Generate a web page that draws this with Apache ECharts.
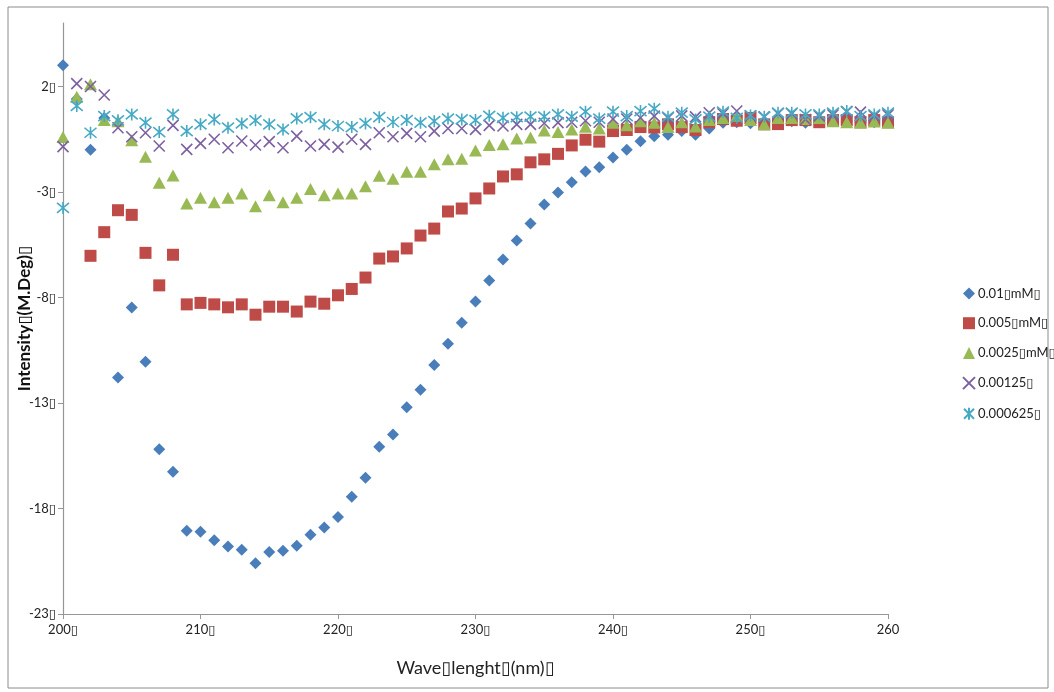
<!DOCTYPE html>
<html>
<head>
<meta charset="utf-8">
<script src="https://cdn.jsdelivr.net/npm/echarts@6/dist/echarts.min.js"></script>
<style>
html,body{margin:0;padding:0;background:#fff;}
#chart{width:1054px;height:692px;}
</style>
</head>
<body>
<div id="chart"></div>
<script>
const BOX = '\u25AF';
const wavelengths = [200,201,202,203,204,205,206,207,208,209,210,211,212,213,214,215,216,217,218,219,220,221,222,223,224,225,226,227,228,229,230,231,232,233,234,235,236,237,238,239,240,241,242,243,244,245,246,247,248,249,250,251,252,253,254,255,256,257,258,259,260];
const xTicks = [200,210,220,230,240,250,260];
const yTicks = [-23,-18,-13,-8,-3,2];
const seriesNames = ['0.01' + BOX + 'mM' + BOX, '0.005' + BOX + 'mM' + BOX, '0.0025' + BOX + 'mM' + BOX, '0.00125' + BOX, '0.000625' + BOX];

const s001 = [3.0,1.4,-1.0,0.5,-11.8,-8.48,-11.05,-15.2,-16.26,-19.06,-19.1,-19.5,-19.8,-19.96,-20.6,-20.06,-20.0,-19.77,-19.25,-18.9,-18.4,-17.45,-16.55,-15.08,-14.5,-13.2,-12.37,-11.2,-10.2,-9.2,-8.2,-7.2,-6.2,-5.3,-4.5,-3.6,-3.03,-2.55,-2.03,-1.84,-1.37,-1.0,-0.6,-0.36,-0.3,-0.12,-0.3,0.0,0.28,0.3,0.25,0.3,0.3,0.35,0.28,0.3,0.35,0.35,0.3,0.3,0.3];
const s0005 = [null,null,-6.03,-4.91,-3.87,-4.09,-5.89,-7.43,-5.98,-8.33,-8.26,-8.33,-8.47,-8.33,-8.82,-8.44,-8.44,-8.67,-8.2,-8.3,-7.9,-7.6,-7.06,-6.16,-6.06,-5.68,-5.07,-4.74,-3.93,-3.79,-3.31,-2.84,-2.27,-2.17,-1.6,-1.46,-1.2,-0.8,-0.53,-0.62,-0.12,-0.07,0.07,0.05,0.2,0.07,-0.07,0.3,0.45,0.37,0.5,0.2,0.21,0.4,0.4,0.3,0.4,0.4,0.3,0.4,0.3];
const s00025 = [-0.4,1.51,2.1,0.4,0.35,-0.56,-1.34,-2.57,-2.22,-3.55,-3.28,-3.49,-3.28,-3.08,-3.68,-3.16,-3.49,-3.28,-2.87,-3.16,-3.08,-3.08,-2.73,-2.24,-2.38,-2.05,-2.05,-1.69,-1.46,-1.43,-1.04,-0.78,-0.75,-0.47,-0.43,-0.09,-0.17,-0.04,0.09,0.0,0.28,0.15,0.35,0.28,0.07,0.3,0.1,0.4,0.5,0.6,0.4,0.2,0.5,0.5,0.45,0.5,0.35,0.3,0.28,0.33,0.28];
const s000125 = [-0.86,2.13,1.99,1.59,0.04,-0.39,-0.2,-0.83,0.15,-0.99,-0.7,-0.51,-0.91,-0.59,-0.78,-0.62,-0.91,-0.36,-0.83,-0.75,-0.88,-0.51,-0.75,-0.2,-0.39,-0.23,-0.39,-0.12,0.0,0.0,-0.04,0.15,0.12,0.2,0.2,0.25,0.28,0.3,0.37,0.3,0.45,0.45,0.51,0.59,0.5,0.6,0.55,0.75,0.7,0.83,0.6,0.55,0.7,0.7,0.43,0.6,0.65,0.8,0.78,0.6,0.65];
const s0000625 = [-3.76,1.07,-0.2,0.59,0.39,0.67,0.28,-0.17,0.67,-0.12,0.2,0.43,0.04,0.24,0.39,0.2,-0.04,0.48,0.54,0.2,0.12,0.07,0.24,0.54,0.31,0.4,0.28,0.35,0.47,0.43,0.4,0.6,0.51,0.54,0.56,0.56,0.67,0.56,0.8,0.47,0.8,0.59,0.83,0.94,0.56,0.75,0.43,0.56,0.8,0.51,0.62,0.56,0.75,0.75,0.67,0.67,0.75,0.83,0.59,0.67,0.75];

const seriesValues = [s001, s0005, s00025, s000125, s0000625];
const colors = ['#4A7EBB', '#BE4B48', '#98B954', '#7D60A0', '#46AAC5'];
const symbols = ['diamond', 'rect', 'triangle', 'path://M0,0L10,10M10,0L0,10', 'path://M0,0L10,10M10,0L0,10M5,-1L5,11'];
const symbolSizes = [[12,12],[12,12],[13,12],[11,11],[12,12]];

const FONT = 'Lato, "Open Sans", "DejaVu Sans", sans-serif';

const series = seriesValues.map((vals, k) => {
  const stroked = k >= 3;
  return {
    name: seriesNames[k],
    type: 'scatter',
    data: wavelengths.map((w, i) => [w, vals[i]]).filter(p => p[1] !== null),
    symbol: symbols[k],
    symbolSize: symbolSizes[k],
    itemStyle: stroked
      ? { color: 'rgba(0,0,0,0)', borderColor: colors[k], borderWidth: 1.6, opacity: 1 }
      : { color: colors[k], opacity: 1 },
    emphasis: { disabled: true }
  };
});

const chart = echarts.init(document.getElementById('chart'));
chart.setOption({
  animation: false,
  backgroundColor: '#ffffff',
  textStyle: { fontFamily: FONT },
  graphic: [{
    type: 'rect',
    shape: { x: 8, y: 7, width: 1040, height: 681 },
    style: { fill: 'none', stroke: '#8c8c8c', lineWidth: 1 },
    silent: true,
    z: -10
  }],
  grid: { left: 63, right: 166, top: 23, bottom: 78, containLabel: false, outerBoundsMode: 'none' },
  legend: {
    orient: 'vertical',
    left: 957,
    top: 282,
    itemWidth: 12,
    itemHeight: 12,
    itemGap: 16.7,
    textStyle: { fontFamily: FONT, fontSize: 13, color: '#222', padding: [0, 0, 0, -2] },
    data: seriesNames
  },
  xAxis: {
    type: 'value',
    min: 200,
    max: 260,
    interval: 10,
    name: 'Wave' + BOX + 'lenght' + BOX + '(nm)' + BOX,
    nameLocation: 'middle',
    nameGap: 45,
    nameMoveOverlap: false,
    nameTextStyle: { fontFamily: FONT, fontSize: 18, color: '#222' },
    axisLine: { show: true, onZero: false, lineStyle: { color: '#969696', width: 1.2 } },
    axisTick: { show: true, length: 5, lineStyle: { color: '#969696' } },
    axisLabel: {
      fontFamily: FONT, fontSize: 13, color: '#222', margin: 9,
      formatter: v => xTicks.includes(v) ? (v === 260 ? String(v) : v + BOX) : ''
    },
    splitLine: { show: false }
  },
  yAxis: {
    type: 'value',
    min: -23,
    max: 5,
    name: 'Intensity' + BOX + '(M.Deg)' + BOX,
    nameLocation: 'middle',
    nameRotate: 90,
    nameGap: 30,
    nameMoveOverlap: false,
    nameTextStyle: { fontFamily: FONT, fontSize: 17, fontWeight: 'bold', color: '#111' },
    axisLine: { show: true, onZero: false, lineStyle: { color: '#969696', width: 1.2 } },
    axisTick: { show: true, length: 5, customValues: yTicks, lineStyle: { color: '#969696' } },
    axisLabel: {
      fontFamily: FONT, fontSize: 13, color: '#222', margin: 7,
      customValues: yTicks,
      formatter: v => v + BOX
    },
    splitLine: { show: false }
  },
  series: series
});
</script>
</body>
</html>
